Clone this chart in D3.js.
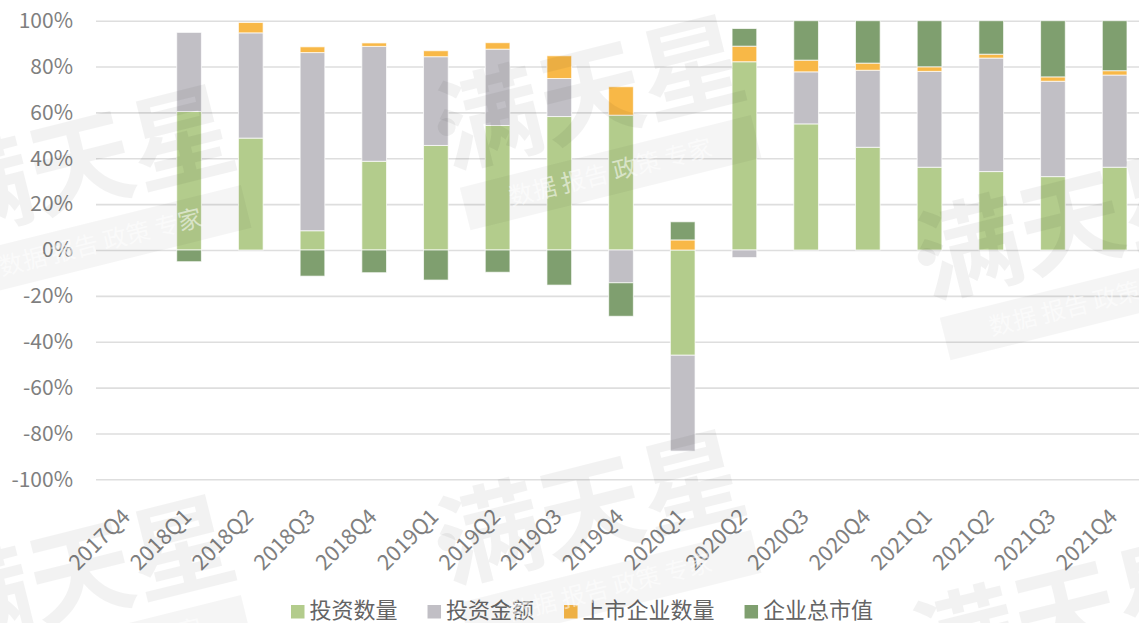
<!DOCTYPE html>
<html>
<head>
<meta charset="utf-8">
<script src="https://cdn.jsdelivr.net/npm/d3@7"></script>
<style>
  html, body { margin: 0; padding: 0; background: #fff; }
  svg { display: block; font-family: "Noto Sans CJK SC", "Noto Sans", sans-serif; }
</style>
</head>
<body>
<svg width="1139" height="623"></svg>
<script>
// quarters on the x axis
const quarters = ['2017Q4', '2018Q1', '2018Q2', '2018Q3', '2018Q4', '2019Q1', '2019Q2', '2019Q3',
  '2019Q4', '2020Q1', '2020Q2', '2020Q3', '2020Q4', '2021Q1', '2021Q2', '2021Q3', '2021Q4'];

const seriesNames = ['投资数量', '投资金额', '上市企业数量', '企业总市值'];
const seriesColors = ['#b3cc8c', '#c1bfc5', '#f8b847', '#7f9f6f'];

// values in percent
const investCount = [0, 60.4, 48.8, 8.4, 38.7, 45.6, 54.3, 58.2, 58.8, -45.9, 82.1, 55.0, 44.8, 36.1, 34.2, 32.0, 36.1];
const investAmount = [0, 34.5, 45.9, 77.7, 50.1, 38.7, 33.3, 16.6, -14.3, -41.8, -3.3, 22.7, 33.6, 41.8, 49.5, 41.6, 40.2];
const listedCount = [0, 0, 4.5, 2.5, 1.5, 2.6, 2.8, 9.9, 12.4, 4.4, 6.8, 5.1, 3.1, 2.0, 1.7, 1.9, 1.9];
const marketCap = [0, -5.1, 0, -11.4, -9.9, -13.1, -9.7, -15.3, -14.6, 7.9, 7.7, 17.2, 18.5, 20.1, 14.6, 24.5, 21.8];

const yTicks = [-100, -80, -60, -40, -20, 0, 20, 40, 60, 80, 100];

const svg = d3.select('svg');

// build rows for d3.stack
const cols = [investCount, investAmount, listedCount, marketCap];
const rows = quarters.map((q, i) => {
  const r = { q: q };
  seriesNames.forEach((s, j) => { r[s] = cols[j][i]; });
  return r;
});

const x = d3.scaleBand()
  .domain(quarters)
  .range([96.5, 1145.5])
  .paddingInner(0.6)
  .paddingOuter(0.3);

const y = d3.scaleLinear()
  .domain([-100, 100])
  .range([479.3, 20.7]);

// y axis + gridlines
const yAxis = svg.append('g')
  .attr('transform', 'translate(96,0)')
  .call(d3.axisLeft(y)
    .tickValues(yTicks)
    .tickSize(-1043)
    .tickPadding(23)
    .tickFormat(d => d + '%'));
yAxis.select('.domain').remove();
yAxis.selectAll('line').attr('stroke', '#dedede').attr('stroke-width', 1.6);
yAxis.selectAll('text')
  .attr('fill', '#7f7f7f')
  .attr('font-size', '21px')
  .attr('font-family', '"Noto Sans CJK SC", sans-serif');

// stacked bars (negatives stack downward)
const stack = d3.stack()
  .keys(seriesNames)
  .offset(d3.stackOffsetDiverging);
const layers = stack(rows);

svg.append('g')
  .selectAll('g')
  .data(layers)
  .join('g')
  .attr('fill', (d, i) => seriesColors[i])
  .selectAll('rect')
  .data(d => d.filter(p => p[1] - p[0] !== 0))
  .join('rect')
  .attr('x', d => x(d.data.q))
  .attr('width', x.bandwidth())
  .attr('y', d => y(d[1]))
  .attr('height', d => y(d[0]) - y(d[1]))
  .attr('stroke', '#fff')
  .attr('stroke-opacity', 0.7)
  .attr('stroke-width', 1);

// x axis labels
const xAxis = svg.append('g')
  .attr('transform', 'translate(0,479)')
  .call(d3.axisBottom(x).tickSize(0));
xAxis.select('.domain').remove();
xAxis.selectAll('text')
  .attr('y', 0)
  .attr('dy', 0)
  .attr('x', 0)
  .attr('transform', 'translate(4,39) rotate(-45)')
  .attr('text-anchor', 'end')
  .attr('fill', '#7f7f7f')
  .attr('font-size', '21.5px')
  .attr('font-family', '"Noto Sans CJK SC", sans-serif');

// legend
const legend = svg.append('g').attr('transform', 'translate(291,0)');
let lx = 0;
seriesNames.forEach((name, i) => {
  const item = legend.append('g').attr('transform', `translate(${lx},0)`);
  item.append('rect')
    .attr('x', 0).attr('y', 605)
    .attr('width', 13.5).attr('height', 13.5)
    .attr('fill', seriesColors[i]);
  const t = item.append('text')
    .attr('x', 18.5).attr('y', 611)
    .attr('dy', '0.34em')
    .attr('fill', '#646464')
    .attr('font-size', '22px')
    .text(name);
  lx += 18.5 + t.node().getComputedTextLength() + 30;
});

// faint watermark "满天星"
const marks = [[600, 130], [1080, 260], [90, 200], [600, 545], [90, 610], [1075, 650]];
const wm = svg.append('g').attr('pointer-events', 'none');
marks.forEach(([mx, my]) => {
  const g = wm.append('g').attr('transform', `translate(${mx},${my}) rotate(-14)`);
  g.append('circle').attr('cx', -148).attr('cy', -40).attr('r', 9)
    .attr('fill', '#000').attr('fill-opacity', 0.05);
  g.append('text')
    .attr('x', 0).attr('y', 0)
    .attr('text-anchor', 'middle')
    .attr('font-size', '104px')
    .attr('font-weight', 'bold')
    .attr('fill', '#000').attr('fill-opacity', 0.05)
    .text('满天星');
  g.append('rect')
    .attr('x', -150).attr('y', 22).attr('width', 300).attr('height', 44)
    .attr('fill', '#000').attr('fill-opacity', 0.04);
  g.append('text')
    .attr('x', 0).attr('y', 52)
    .attr('text-anchor', 'middle')
    .attr('font-size', '24px')
    .attr('fill', '#fff').attr('fill-opacity', 0.55)
    .text('数据  报告  政策  专家');
});
</script>
</body>
</html>
